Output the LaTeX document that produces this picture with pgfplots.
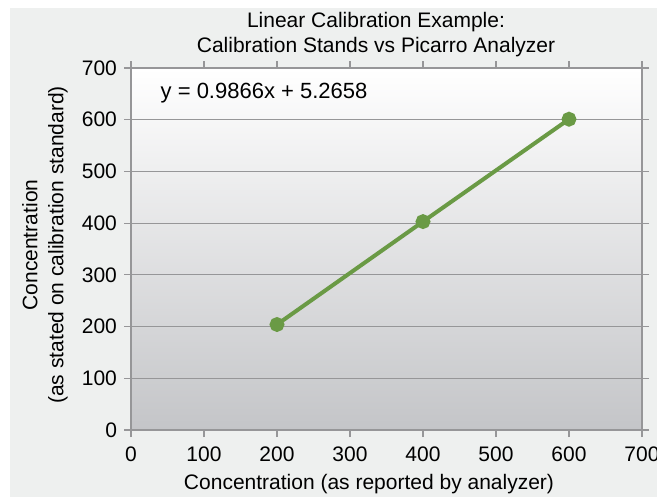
\documentclass[border=0pt]{standalone}
\usepackage{pgfplots}
\pgfplotsset{compat=1.18}
\usepackage{fontspec}
\setmainfont{Liberation Sans}
\definecolor{bg}{RGB}{238,240,239}
\definecolor{lgreen}{RGB}{106,154,69}
\definecolor{gridc}{RGB}{150,150,152}
\definecolor{botc}{RGB}{196,197,200}
\begin{document}
\begin{tikzpicture}[x=1pt,y=1pt]
\useasboundingbox (0,0) rectangle (328.5,248.5);
\fill[bg] (5,0) rectangle (328.5,244.5);
\begin{axis}[
  at={(65.5pt,33.5pt)}, anchor=south west,
  scale only axis, width=255.5pt, height=181pt,
  xmin=0, xmax=700, ymin=0, ymax=700,
  xtick={0,100,...,700}, ytick={0,100,...,700},
  ymajorgrids, grid style={gridc, line width=0.6pt},
  axis line style={gridc, line width=0.6pt},
  tick style={gridc, line width=0.6pt},
  tick align=outside, major tick length=3.5pt,
  axis background/.style={top color=white, bottom color=botc},
  ticklabel style={font=\fontsize{10.5}{12}\selectfont},
  xticklabel style={yshift=-1.5pt},
  /pgf/number format/assume math mode=true,
  /pgf/number format/1000 sep={},
  clip=false,
]
\addplot[lgreen, line width=2pt, mark=*, mark size=2.7pt, mark options={fill=lgreen, draw=lgreen}] coordinates {(200,204) (400,403) (600,601)};
\node[anchor=west, font=\fontsize{11}{12}\selectfont] at (axis cs:31,652) {y = 0.9866x + 5.2658};
\end{axis}
\node[align=center, font=\fontsize{10.5}{12.5}\selectfont] at (188,231) {Linear Calibration Example:\\Calibration Stands vs Picarro Analyzer};
\node[align=center, rotate=90, font=\fontsize{10.5}{13}\selectfont] at (22.5,126) {Concentration\\(as stated on calibration standard)};
\node[font=\fontsize{10.5}{12}\selectfont] at (184.5,6.5) {Concentration (as reported by analyzer)};
\end{tikzpicture}
\end{document}
